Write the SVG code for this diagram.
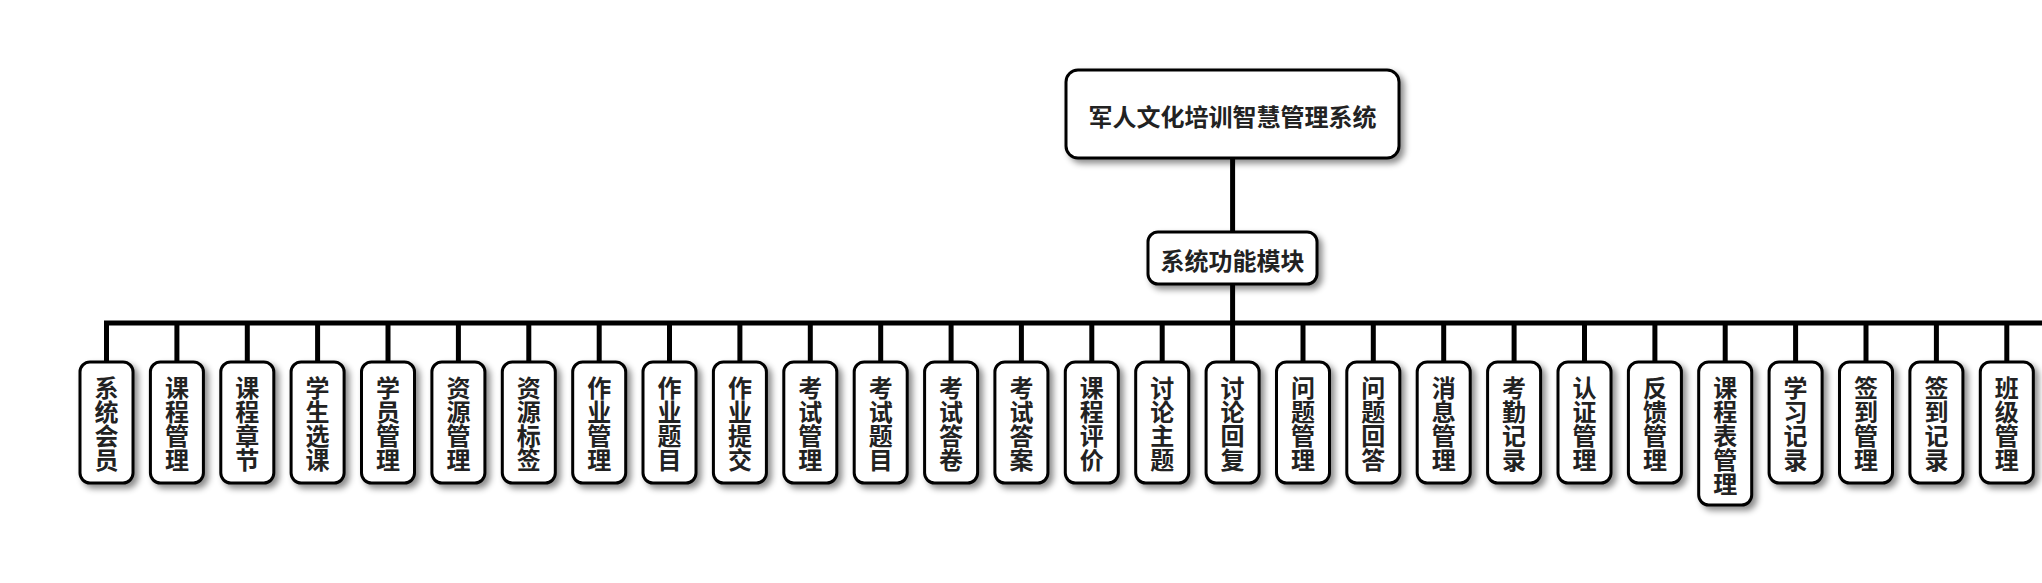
<svg xmlns="http://www.w3.org/2000/svg" width="2042" height="583" viewBox="0 0 2042 583">
<defs>
<filter id="sh" x="-30%" y="-30%" width="160%" height="160%">
<feDropShadow dx="4" dy="4" stdDeviation="3" flood-color="#000" flood-opacity="0.45"/>
</filter>
<style>
.box{fill:#fff;stroke:#000;stroke-width:3;filter:url(#sh);}
.t{font-family:"Noto Sans CJK SC","Noto Sans",sans-serif;font-weight:bold;font-size:24px;fill:#222;text-anchor:middle;dominant-baseline:central;}
.v{font-family:"Noto Sans CJK SC","Noto Sans",sans-serif;font-weight:bold;font-size:24px;fill:#222;text-anchor:middle;writing-mode:vertical-rl;}
.c{fill:none;stroke:#000;stroke-width:5;}
</style>
</defs>
<rect width="2042" height="583" fill="#fff"/>
<g id="connectors">
<path class="c" d="M1232.6 158V232M1232.6 284V323M104 323H2042"/>
<path class="c" d="M106.5 321V362M176.9 321V362M247.3 321V362M317.6 321V362M388 321V362M458.4 321V362M528.8 321V362M599.2 321V362M669.5 321V362M739.9 321V362M810.3 321V362M880.7 321V362M951.1 321V362M1021.4 321V362M1091.8 321V362M1162.2 321V362M1232.6 321V362M1303 321V362M1373.3 321V362M1443.7 321V362M1514.1 321V362M1584.5 321V362M1654.9 321V362M1725.2 321V362M1795.6 321V362M1866 321V362M1936.4 321V362M2006.8 321V362"/>
</g>
<g id="root">
<rect class="box" x="1066" y="70" width="333" height="88" rx="12"/>
<text class="t" x="1232.5" y="115">军人文化培训智慧管理系统</text>
</g>
<g id="module">
<rect class="box" x="1148" y="232" width="169" height="52" rx="10"/>
<text class="t" x="1232.5" y="259">系统功能模块</text>
</g>
<g id="n0" transform="translate(106.5,0)"><rect class="box" x="-26.5" y="362" width="53" height="121" rx="10"/><text class="v" x="0" y="424">系统会员</text></g>
<g id="n1" transform="translate(176.9,0)"><rect class="box" x="-26.5" y="362" width="53" height="121" rx="10"/><text class="v" x="0" y="424">课程管理</text></g>
<g id="n2" transform="translate(247.3,0)"><rect class="box" x="-26.5" y="362" width="53" height="121" rx="10"/><text class="v" x="0" y="424">课程章节</text></g>
<g id="n3" transform="translate(317.6,0)"><rect class="box" x="-26.5" y="362" width="53" height="121" rx="10"/><text class="v" x="0" y="424">学生选课</text></g>
<g id="n4" transform="translate(388,0)"><rect class="box" x="-26.5" y="362" width="53" height="121" rx="10"/><text class="v" x="0" y="424">学员管理</text></g>
<g id="n5" transform="translate(458.4,0)"><rect class="box" x="-26.5" y="362" width="53" height="121" rx="10"/><text class="v" x="0" y="424">资源管理</text></g>
<g id="n6" transform="translate(528.8,0)"><rect class="box" x="-26.5" y="362" width="53" height="121" rx="10"/><text class="v" x="0" y="424">资源标签</text></g>
<g id="n7" transform="translate(599.2,0)"><rect class="box" x="-26.5" y="362" width="53" height="121" rx="10"/><text class="v" x="0" y="424">作业管理</text></g>
<g id="n8" transform="translate(669.5,0)"><rect class="box" x="-26.5" y="362" width="53" height="121" rx="10"/><text class="v" x="0" y="424">作业题目</text></g>
<g id="n9" transform="translate(739.9,0)"><rect class="box" x="-26.5" y="362" width="53" height="121" rx="10"/><text class="v" x="0" y="424">作业提交</text></g>
<g id="n10" transform="translate(810.3,0)"><rect class="box" x="-26.5" y="362" width="53" height="121" rx="10"/><text class="v" x="0" y="424">考试管理</text></g>
<g id="n11" transform="translate(880.7,0)"><rect class="box" x="-26.5" y="362" width="53" height="121" rx="10"/><text class="v" x="0" y="424">考试题目</text></g>
<g id="n12" transform="translate(951.1,0)"><rect class="box" x="-26.5" y="362" width="53" height="121" rx="10"/><text class="v" x="0" y="424">考试答卷</text></g>
<g id="n13" transform="translate(1021.4,0)"><rect class="box" x="-26.5" y="362" width="53" height="121" rx="10"/><text class="v" x="0" y="424">考试答案</text></g>
<g id="n14" transform="translate(1091.8,0)"><rect class="box" x="-26.5" y="362" width="53" height="121" rx="10"/><text class="v" x="0" y="424">课程评价</text></g>
<g id="n15" transform="translate(1162.2,0)"><rect class="box" x="-26.5" y="362" width="53" height="121" rx="10"/><text class="v" x="0" y="424">讨论主题</text></g>
<g id="n16" transform="translate(1232.6,0)"><rect class="box" x="-26.5" y="362" width="53" height="121" rx="10"/><text class="v" x="0" y="424">讨论回复</text></g>
<g id="n17" transform="translate(1303,0)"><rect class="box" x="-26.5" y="362" width="53" height="121" rx="10"/><text class="v" x="0" y="424">问题管理</text></g>
<g id="n18" transform="translate(1373.3,0)"><rect class="box" x="-26.5" y="362" width="53" height="121" rx="10"/><text class="v" x="0" y="424">问题回答</text></g>
<g id="n19" transform="translate(1443.7,0)"><rect class="box" x="-26.5" y="362" width="53" height="121" rx="10"/><text class="v" x="0" y="424">消息管理</text></g>
<g id="n20" transform="translate(1514.1,0)"><rect class="box" x="-26.5" y="362" width="53" height="121" rx="10"/><text class="v" x="0" y="424">考勤记录</text></g>
<g id="n21" transform="translate(1584.5,0)"><rect class="box" x="-26.5" y="362" width="53" height="121" rx="10"/><text class="v" x="0" y="424">认证管理</text></g>
<g id="n22" transform="translate(1654.9,0)"><rect class="box" x="-26.5" y="362" width="53" height="121" rx="10"/><text class="v" x="0" y="424">反馈管理</text></g>
<g id="n23" transform="translate(1725.2,0)"><rect class="box" x="-26.5" y="362" width="53" height="143" rx="10"/><text class="v" x="0" y="436">课程表管理</text></g>
<g id="n24" transform="translate(1795.6,0)"><rect class="box" x="-26.5" y="362" width="53" height="121" rx="10"/><text class="v" x="0" y="424">学习记录</text></g>
<g id="n25" transform="translate(1866,0)"><rect class="box" x="-26.5" y="362" width="53" height="121" rx="10"/><text class="v" x="0" y="424">签到管理</text></g>
<g id="n26" transform="translate(1936.4,0)"><rect class="box" x="-26.5" y="362" width="53" height="121" rx="10"/><text class="v" x="0" y="424">签到记录</text></g>
<g id="n27" transform="translate(2006.8,0)"><rect class="box" x="-26.5" y="362" width="53" height="121" rx="10"/><text class="v" x="0" y="424">班级管理</text></g>
</svg>
